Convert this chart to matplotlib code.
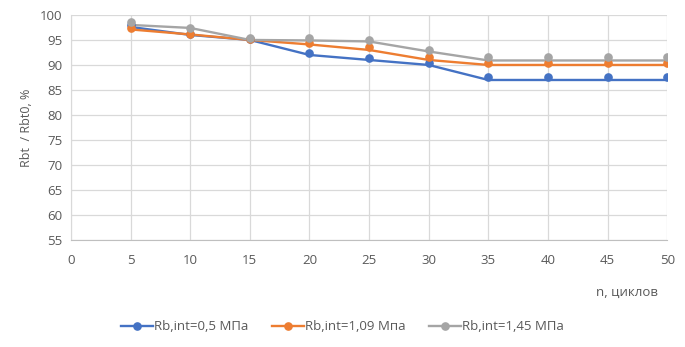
import matplotlib
matplotlib.use("Agg")
import matplotlib.pyplot as plt
from matplotlib.lines import Line2D

# ==========================================
# DATA
# ==========================================
cycles = [5, 10, 15, 20, 25, 30, 35, 40, 45, 50]

# measured points (markers)
pts_05 = [98.0, 96.2, 95.2, 92.4, 91.4, 90.3, 87.5, 87.5, 87.5, 87.5]
pts_109 = [97.4, 96.2, 95.2, 94.3, 93.5, 91.5, 90.4, 90.4, 90.4, 90.4]
pts_145 = [98.5, 97.3, 95.4, 95.4, 94.9, 92.9, 91.5, 91.5, 91.5, 91.5]

# approximating lines
line_05 = [97.6, 96.0, 95.0, 92.0, 91.0, 90.0, 87.0, 87.0, 87.0, 87.0]
line_109 = [97.1, 96.1, 95.0, 94.1, 93.0, 91.0, 90.0, 90.0, 90.0, 90.0]
line_145 = [98.0, 97.4, 95.0, 94.9, 94.7, 92.7, 90.9, 90.9, 90.9, 90.9]

labels = ["Rb,int=0,5 МПа", "Rb,int=1,09 Мпа", "Rb,int=1,45 МПа"]
colors = ["#4472C4", "#ED7D31", "#A5A5A5"]

x_ticks = list(range(0, 55, 5))
y_ticks = list(range(55, 105, 5))

TXT = "#595959"
GRID = "#D9D9D9"

plt.rcParams['font.family'] = ['Open Sans', 'DejaVu Sans']

fig = plt.figure(figsize=(6.85, 3.47), dpi=100)
ax = fig.add_axes([0.1036, 0.308, 0.8704, 0.649])

series = [(pts_05, line_05), (pts_109, line_109), (pts_145, line_145)]
handles = []
for (pts, ln), col, lab in zip(series, colors, labels):
    ax.plot(cycles, ln, color=col, lw=1.7, solid_capstyle="round", zorder=3)
    ax.plot(cycles, pts, ls="none", marker="o", ms=5.2, color=col, zorder=4)
    handles.append(Line2D([], [], color=col, lw=1.7, marker="o", ms=5.2, label=lab))

ax.set_xlim(0, 50)
ax.set_ylim(55, 100)
ax.set_xticks(x_ticks)
ax.set_yticks(y_ticks)
ax.grid(True, color=GRID, lw=0.9)
ax.set_axisbelow(True)
ax.tick_params(length=0, labelsize=9.5, colors=TXT, pad=10)
ax.tick_params(axis="y", pad=6)
for s in ["top", "right"]:
    ax.spines[s].set_visible(False)
ax.spines["left"].set_color(GRID)
ax.spines["bottom"].set_color("#BFBFBF")

ax.set_ylabel("Rbt  / Rbt0, %", fontsize=9, color=TXT, labelpad=5)
fig.text(0.915, 0.158, "n, циклов", fontsize=9.5, color=TXT, ha="center", va="center")

fig.legend(handles=handles, loc="center", bbox_to_anchor=(0.5, 0.058), ncol=3,
           frameon=False, fontsize=9.5, labelcolor=TXT, handlelength=2.4,
           handletextpad=0.1, columnspacing=1.8)

fig.savefig("out.png", dpi=100)
